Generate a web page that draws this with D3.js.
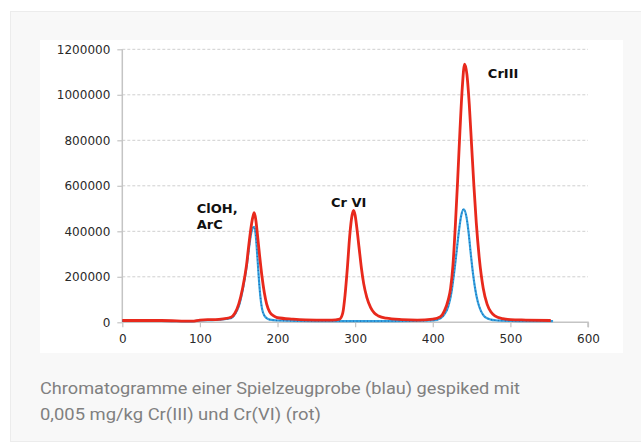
<!DOCTYPE html>
<html>
<head>
<meta charset="utf-8">
<script src="https://cdn.jsdelivr.net/npm/d3@7"></script>
<style>
  body { margin: 0; background: #ffffff; }
  #graphContainer { width: 641px; height: 443px; }
</style>
</head>
<body>
<div id="graphContainer"></div>
<script>
// retention time (x) and signal (y)
var redTime = [0, 50, 90, 100, 110, 120, 130, 140, 145, 150, 155, 160, 163, 166, 168, 170, 172, 174, 177, 180, 183, 186, 190, 195, 200, 220, 250, 270, 280, 284, 287, 290, 293, 296, 298, 300, 302, 305, 308, 311, 315, 320, 325, 330, 340, 360, 380, 400, 410, 415, 420, 423, 426, 429, 432, 435, 438, 441, 444, 447, 450, 453, 456, 460, 465, 470, 475, 480, 490, 500, 520, 552];
var redSignal = [8000, 8000, 5000, 10000, 12000, 12000, 15000, 22000, 40000, 80000, 150000, 250000, 340000, 420000, 460000, 482000, 450000, 390000, 290000, 200000, 130000, 80000, 45000, 28000, 20000, 14000, 10000, 10000, 14000, 40000, 120000, 240000, 380000, 470000, 492000, 470000, 420000, 330000, 240000, 170000, 110000, 65000, 40000, 28000, 18000, 12000, 10000, 14000, 25000, 50000, 100000, 150000, 250000, 420000, 620000, 840000, 1030000, 1135000, 1090000, 960000, 780000, 600000, 440000, 280000, 150000, 80000, 45000, 28000, 16000, 12000, 10000, 8000];

var blueTime = [0, 50, 90, 100, 120, 140, 145, 150, 155, 160, 163, 166, 168, 170, 172, 174, 176, 178, 180, 183, 186, 190, 200, 250, 300, 350, 400, 410, 415, 420, 424, 428, 431, 434, 437, 440, 443, 446, 449, 452, 455, 458, 462, 466, 470, 475, 480, 490, 500, 520, 555];
var blueSignal = [6000, 6000, 4000, 8000, 10000, 18000, 35000, 70000, 140000, 240000, 320000, 390000, 415000, 420000, 380000, 290000, 190000, 110000, 60000, 30000, 18000, 12000, 8000, 5000, 5000, 5000, 8000, 18000, 35000, 70000, 130000, 230000, 320000, 410000, 475000, 497000, 470000, 400000, 300000, 210000, 140000, 90000, 50000, 28000, 18000, 12000, 9000, 7000, 6000, 5000, 5000];

var xTicks = [0, 100, 200, 300, 400, 500, 600];
var yTicks = [0, 200000, 400000, 600000, 800000, 1000000, 1200000];

// label anchor in data units (left edge of text, first baseline)
var peakLabels = [
    {lines: ["ClOH,", "ArC"], t: 96, v: 482000},
    {lines: ["Cr VI"], t: 269, v: 509000},
    {lines: ["CrIII"], t: 471, v: 1074000}
];

var captionLines = [
    "Chromatogramme einer Spielzeugprobe (blau) gespiked mit",
    "0,005 mg/kg Cr(III) und Cr(VI) (rot)"
];

var svg = d3.select("#graphContainer").append("svg")
    .attr("width", 641).attr("height", 443);

// grey panel behind chart and caption
svg.append("rect")
    .attr("x", 10.5).attr("y", 11.5).attr("width", 640).attr("height", 430)
    .attr("fill", "#f8f8f8").attr("stroke", "#ececec");

// white chart picture
svg.append("rect")
    .attr("x", 40).attr("y", 40).attr("width", 583).attr("height", 313)
    .attr("fill", "#ffffff");

var margin = {top: 49.3, left: 122.3, right: 588, bottom: 322.3};

var x = d3.scaleLinear().domain([0, 600]).range([margin.left, margin.right]);
var y = d3.scaleLinear().domain([0, 1200000]).range([margin.bottom, margin.top]);

var chartLayer = svg.append("g").classed("chartLayer", true);

// dashed gridlines
chartLayer.append("g")
    .selectAll("line")
    .data(yTicks.filter(function (d) { return d > 0; }))
    .enter().append("line")
    .attr("x1", margin.left).attr("x2", margin.right)
    .attr("y1", function (d) { return y(d); })
    .attr("y2", function (d) { return y(d); })
    .attr("stroke", "#cfcfcf")
    .attr("stroke-dasharray", "3,2");

// axes
var xAxis = chartLayer.append("g")
    .attr("transform", "translate(0," + margin.bottom + ")")
    .call(d3.axisBottom(x).tickValues(xTicks).tickSize(5).tickPadding(7));

var yAxis = chartLayer.append("g")
    .attr("transform", "translate(" + margin.left + ",0)")
    .call(d3.axisLeft(y).tickValues(yTicks).tickSize(5).tickPadding(7)
        .tickFormat(d3.format("d")));

[xAxis, yAxis].forEach(function (a) {
    a.select(".domain").attr("stroke", "#c4c4c4").attr("stroke-width", 1.5);
    a.selectAll(".tick line").attr("stroke", "#c4c4c4").attr("stroke-width", 1.2);
    a.selectAll("text")
        .attr("fill", "#2a2a2a")
        .style("font-family", "DejaVu Sans, Verdana, sans-serif")
        .style("font-size", "12px");
});
xAxis.select(".domain").attr("d", "M" + margin.left + ",0H" + margin.right + "V5");
yAxis.select(".domain").attr("d", "M0," + margin.top + "V" + margin.bottom);

var line = d3.line()
    .x(function (d) { return x(d[0]); })
    .y(function (d) { return y(d[1]); })
    .curve(d3.curveMonotoneX);

var blueData = blueTime.map(function (t, i) { return [t, blueSignal[i]]; });
var redData = redTime.map(function (t, i) { return [t, redSignal[i]]; });

chartLayer.append("path")
    .datum(blueData)
    .attr("fill", "none")
    .attr("stroke", "#35a3e0")
    .attr("stroke-width", 2.2)
    .attr("d", line);

chartLayer.append("path")
    .datum(blueData)
    .attr("fill", "none")
    .attr("stroke", "#1f6fb8")
    .attr("stroke-width", 1.4)
    .attr("stroke-dasharray", "1,2.5")
    .attr("d", line);

chartLayer.append("path")
    .datum(redData)
    .attr("fill", "none")
    .attr("stroke", "#e8291c")
    .attr("stroke-width", 2.8)
    .attr("stroke-linejoin", "round")
    .attr("d", line);

// peak annotations
var ann = chartLayer.append("g")
    .selectAll("text")
    .data(peakLabels)
    .enter().append("text")
    .attr("x", function (d) { return x(d.t); })
    .attr("y", function (d) { return y(d.v); })
    .style("font-family", "DejaVu Sans, Verdana, sans-serif")
    .style("font-size", "13px")
    .style("font-weight", "bold")
    .attr("fill", "#111");

ann.each(function (d) {
    var t = d3.select(this);
    d.lines.forEach(function (l, i) {
        t.append("tspan")
            .attr("x", x(d.t))
            .attr("dy", i === 0 ? 0 : 16.5)
            .text(l);
    });
});

// caption
svg.append("g")
    .selectAll("text")
    .data(captionLines)
    .enter().append("text")
    .attr("x", 40)
    .attr("y", function (d, i) { return 394 + i * 26; })
    .attr("fill", "#808080")
    .style("font-family", "Roboto, sans-serif")
    .style("font-size", "17px")
    .attr("textLength", function (d, i) { return i === 0 ? 480 : 281; })
    .attr("lengthAdjust", "spacingAndGlyphs")
    .text(function (d) { return d; });
</script>
</body>
</html>
